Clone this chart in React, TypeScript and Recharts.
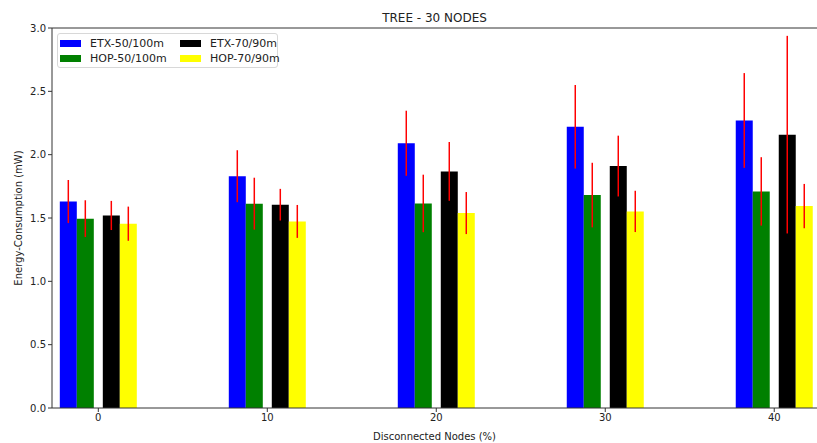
import React from "react";
import {
  BarChart,
  Bar,
  XAxis,
  YAxis,
  ErrorBar,
  ReferenceLine,
} from "recharts";

const nodes = [0, 10, 20, 30, 40];
const etx50 = [1.63, 1.83, 2.09, 2.22, 2.27];
const etx50Err = [0.17, 0.205, 0.257, 0.33, 0.374];
const hop50 = [1.495, 1.613, 1.615, 1.681, 1.71];
const hop50Err = [0.145, 0.205, 0.227, 0.255, 0.27];
const etx70 = [1.52, 1.605, 1.868, 1.91, 2.158];
const etx70Err = [0.115, 0.125, 0.232, 0.24, 0.78];
const hop70 = [1.455, 1.473, 1.539, 1.552, 1.594];
const hop70Err = [0.135, 0.13, 0.166, 0.163, 0.175];
const yTicks = [0, 0.5, 1, 1.5, 2, 2.5, 3];

const seriesNames = ["ETX-50/100m", "HOP-50/100m", "ETX-70/90m", "HOP-70/90m"];
const seriesColors = ["#0000ff", "#008000", "#000000", "#ffff00"];

const data = nodes.map((x, i) => ({
  x,
  etx50: etx50[i],
  etx50Err: etx50Err[i],
  hop50: hop50[i],
  hop50Err: hop50Err[i],
  etx70: etx70[i],
  etx70Err: etx70Err[i],
  hop70: hop70[i],
  hop70Err: hop70Err[i],
}));

const font = "'DejaVu Sans', sans-serif";

// matplotlib-style legend box, two columns filled column-first
const LegendBox = () => {
  const item = (i: number) => (
    <div
      key={i}
      style={{ display: "flex", alignItems: "center", height: 14.7, whiteSpace: "nowrap" }}
    >
      <span
        style={{
          display: "inline-block",
          flexShrink: 0,
          width: 21,
          height: 7,
          background: seriesColors[i],
          marginRight: 9,
        }}
      />
      <span>{seriesNames[i]}</span>
    </div>
  );
  return (
    <div
      style={{
        position: "absolute",
        left: 57,
        top: 33,
        width: 221,
        height: 35,
        boxSizing: "border-box",
        display: "flex",
        border: "1px solid #d8d8d8",
        borderRadius: 3,
        background: "rgba(255,255,255,0.8)",
        padding: "2px 0 0 2px",
        fontSize: 11,
        fontFamily: font,
        color: "#222",
      }}
    >
      <div style={{ width: 120, flexShrink: 0 }}>{[0, 1].map(item)}</div>
      <div style={{ flexShrink: 0 }}>{[2, 3].map(item)}</div>
    </div>
  );
};

const YLabel = () => (
  <text
    x={18}
    y={218}
    transform="rotate(-90 18 218)"
    textAnchor="middle"
    dominantBaseline="central"
    fontSize={10}
    fill="#222"
    fontFamily={font}
  >
    Energy-Consumption (mW)
  </text>
);

export default function App() {
  return (
    <div style={{ position: "absolute", top: 0, left: 0, width: 817, height: 443, background: "#fff" }}>
      <BarChart
        width={817}
        height={443}
        data={data}
        margin={{ top: 28, right: 0, left: 0, bottom: 0 }}
        barGap={0}
        style={{ fontFamily: font }}
      >
        <XAxis
          type="number"
          dataKey="x"
          domain={[-2.74, 42.53]}
          ticks={nodes}
          allowDataOverflow
          height={35}
          tickSize={4}
          tickLine={{ stroke: "#333" }}
          axisLine={{ stroke: "#333" }}
          tick={{ fontSize: 10, fill: "#222" }}
          label={{
            value: "Disconnected Nodes (%)",
            position: "insideBottom",
            offset: 3,
            fontSize: 10,
            fill: "#222",
          }}
        />
        <YAxis
          width={52}
          domain={[0, 3]}
          ticks={yTicks}
          allowDataOverflow
          tickSize={4}
          tickLine={{ stroke: "#333" }}
          axisLine={{ stroke: "#333" }}
          tick={{ fontSize: 10, fill: "#222" }}
          tickFormatter={(v: number) => v.toFixed(1)}
          label={<YLabel />}
        />
        <ReferenceLine
          y={3}
          stroke="#333"
          label={{
            value: "TREE - 30 NODES",
            position: "top",
            offset: 6,
            fontSize: 12,
            fill: "#222",
          }}
        />
        <Bar dataKey="etx50" fill={seriesColors[0]} barSize={17} isAnimationActive={false}>
          <ErrorBar dataKey="etx50Err" width={0} stroke="#ff0000" strokeWidth={1.5} />
        </Bar>
        <Bar dataKey="hop50" fill={seriesColors[1]} barSize={17} isAnimationActive={false}>
          <ErrorBar dataKey="hop50Err" width={0} stroke="#ff0000" strokeWidth={1.5} />
        </Bar>
        <Bar dataKey={() => 0} fill="none" barSize={9} isAnimationActive={false} />
        <Bar dataKey="etx70" fill={seriesColors[2]} barSize={17} isAnimationActive={false}>
          <ErrorBar dataKey="etx70Err" width={0} stroke="#ff0000" strokeWidth={1.5} />
        </Bar>
        <Bar dataKey="hop70" fill={seriesColors[3]} barSize={17} isAnimationActive={false}>
          <ErrorBar dataKey="hop70Err" width={0} stroke="#ff0000" strokeWidth={1.5} />
        </Bar>
      </BarChart>
      <LegendBox />
    </div>
  );
}
